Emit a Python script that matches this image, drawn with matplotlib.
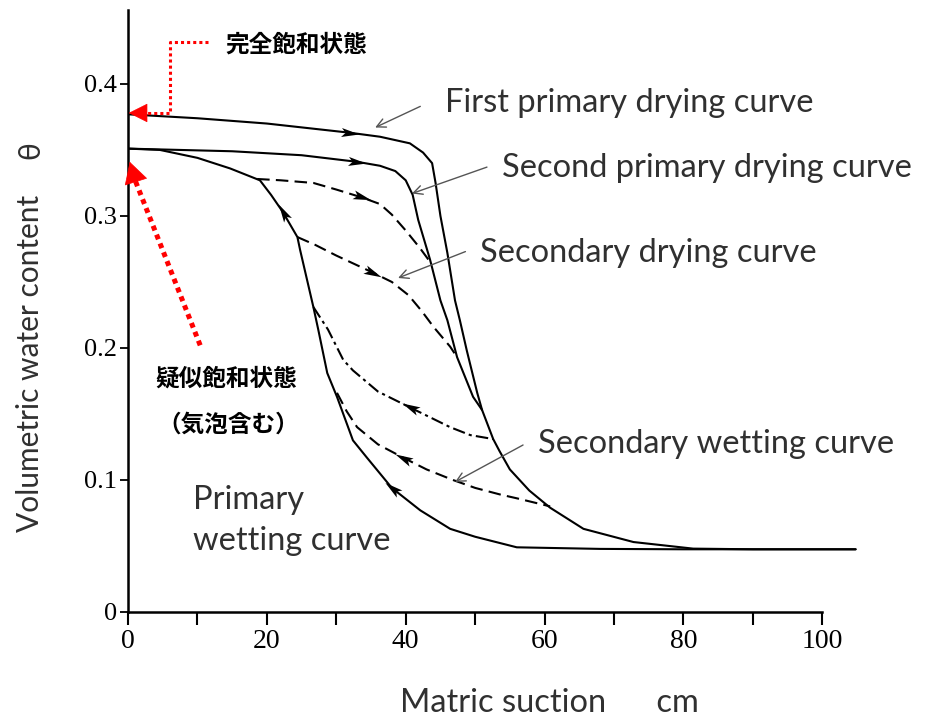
#!/usr/bin/env python
from __future__ import annotations

import matplotlib

matplotlib.use("Agg")

import matplotlib.pyplot as plt
import numpy as np
from matplotlib.markers import MarkerStyle
from matplotlib.path import Path
from matplotlib.transforms import Affine2D

# matric suction (cm) / volumetric water content
first_dry_x = [0, 10, 20, 32, 36.3, 40.6, 42.5, 43.8, 44.3, 45.0, 46.0, 47.1, 47.8, 48.8, 50.3,
               51.0, 52.6, 53.5, 55.0, 57.8, 60.8, 65.6, 72.8, 81.4, 90, 104.8]
first_dry_y = [0.377, 0.374, 0.370, 0.363, 0.360, 0.355, 0.348, 0.340, 0.325, 0.300, 0.272, 0.236, 0.221, 0.198, 0.166,
               0.153, 0.131, 0.122, 0.108, 0.092, 0.079, 0.063, 0.053, 0.048, 0.0475, 0.0475]

second_dry_x = [0, 15, 25, 33, 36.3, 38.5, 40.0, 41.0, 41.8, 43.5, 45.0, 46.0, 47.4, 49.7, 51.0]
second_dry_y = [0.351, 0.349, 0.346, 0.341, 0.338, 0.334, 0.327, 0.316, 0.297, 0.267, 0.236, 0.221, 0.193, 0.163, 0.153]

sec_dry_upper_x = [18.6, 22, 26.7, 30, 33.7, 36.3, 38, 40, 42, 43.4]
sec_dry_upper_y = [0.328, 0.327, 0.325, 0.320, 0.314, 0.309, 0.301, 0.289, 0.276, 0.266]

sec_dry_lower_x = [24.4, 27, 30, 35.3, 38, 40.4, 42.3, 44, 46.4, 47.4]
sec_dry_lower_y = [0.284, 0.278, 0.270, 0.257, 0.250, 0.240, 0.228, 0.216, 0.201, 0.193]

wet_x = [0, 4.6, 10, 14.7, 19.0, 20.6, 22.3, 24.4, 24.8, 26.7, 27.4, 28.7, 30.1, 32.4, 34.4, 38.0,
         42.1, 46.4, 50, 56, 68, 80, 104.8]
wet_y = [0.351, 0.350, 0.344, 0.336, 0.327, 0.316, 0.303, 0.284, 0.274, 0.231, 0.214, 0.181, 0.163, 0.130, 0.117, 0.094,
         0.077, 0.063, 0.057, 0.049, 0.0478, 0.0475, 0.0475]

sec_wet_upper_x = [26.7, 28.8, 31.0, 32.4, 36.0, 40.6, 46.4, 49.3, 52.6]
sec_wet_upper_y = [0.231, 0.214, 0.191, 0.183, 0.167, 0.155, 0.140, 0.134, 0.131]

sec_wet_lower_x = [30.1, 31.5, 33.0, 36, 39.6, 43, 46.8, 50, 53.6, 56.1, 60.8]
sec_wet_lower_y = [0.166, 0.152, 0.140, 0.127, 0.117, 0.108, 0.100, 0.094, 0.089, 0.086, 0.080]

# where the direction arrowheads sit on each curve (x)
first_dry_arrows = [32]
second_dry_arrows = [33]
sec_dry_upper_arrows = [33.7]
sec_dry_lower_arrows = [35.3]
wet_arrows = [22.3, 38.0]
sec_wet_upper_arrows = [40.6]
sec_wet_lower_arrows = [39.6]

x_ticks = [0, 10, 20, 30, 40, 50, 60, 70, 80, 90, 100]
x_tick_labels = ["0", "", "20", "", "40", "", "60", "", "80", "", "100"]
y_ticks = [0, 0.1, 0.2, 0.3, 0.4]
y_tick_labels = ["0", "0.1", "0.2", "0.3", "0.4"]

EN_FONT = ["Lato", "DejaVu Sans"]
TICK_FONT = "Liberation Serif"
JP_FONT = ["Noto Sans CJK JP", "DejaVu Sans"]
TEXT_COLOR = "#303030"
EN_SIZE = 23.5
ARROW_HEAD = Path([(1.0, 0.0), (-1.0, 0.5), (-0.55, 0.0), (-1.0, -0.5), (1.0, 0.0)],
                  [Path.MOVETO, Path.LINETO, Path.LINETO, Path.LINETO, Path.CLOSEPOLY])


def add_heads(ax, xs, ys, positions, direction, size=13):
    # direction: +1 = heading to larger suction, -1 = heading back
    for x0 in positions:
        y0 = np.interp(x0, xs, ys)
        x1 = x0 - direction * 0.4
        y1 = np.interp(x1, xs, ys)
        p0 = ax.transData.transform((x0, y0))
        p1 = ax.transData.transform((x1, y1))
        ang = np.degrees(np.arctan2(p0[1] - p1[1], p0[0] - p1[0]))
        marker = MarkerStyle(ARROW_HEAD, transform=Affine2D().rotate_deg(ang))
        ax.plot([x0], [y0], marker=marker, ms=size, color="black", mew=0, zorder=4)


def pointer(ax, start, end):
    ax.annotate("", xy=end, xytext=start,
                arrowprops=dict(arrowstyle="->", color="#555555", lw=1.0,
                                shrinkA=0, shrinkB=0, mutation_scale=16))


def main() -> None:
    fig = plt.figure(figsize=(9.27, 7.17), dpi=100)
    ax = fig.add_axes([128 / 927, 105 / 717, 729 / 927, 602 / 717])
    ax.set_xlim(0, 105)
    ax.set_ylim(0, 0.456)

    for side in ("top", "right"):
        ax.spines[side].set_visible(False)
    ax.spines["left"].set_linewidth(1.8)
    ax.spines["bottom"].set_linewidth(1.8)
    ax.spines["bottom"].set_bounds(0, 100)

    ax.set_xticks(x_ticks)
    ax.set_xticklabels(x_tick_labels, fontfamily=TICK_FONT, fontsize=20)
    ax.set_yticks(y_ticks)
    ax.set_yticklabels(y_tick_labels, fontfamily=TICK_FONT, fontsize=19)
    ax.tick_params(axis="x", direction="out", length=9, width=1.5, pad=3)
    ax.tick_params(axis="y", direction="out", length=6, width=1.3, pad=2)

    solid = dict(color="black", lw=1.5, solid_capstyle="round")
    ax.plot(first_dry_x, first_dry_y, **solid)
    ax.plot(second_dry_x, second_dry_y, **solid)
    ax.plot(wet_x, wet_y, **solid)
    ax.plot(sec_dry_upper_x, sec_dry_upper_y, color="black", lw=1.5, dashes=(6, 3))
    ax.plot(sec_dry_lower_x, sec_dry_lower_y, color="black", lw=1.5, dashes=(6, 3))
    ax.plot(sec_wet_upper_x, sec_wet_upper_y, color="black", lw=1.5, dashes=(6, 2, 1.5, 2))
    ax.plot(sec_wet_lower_x, sec_wet_lower_y, color="black", lw=1.5, dashes=(6, 3))

    add_heads(ax, first_dry_x, first_dry_y, first_dry_arrows, 1)
    add_heads(ax, second_dry_x, second_dry_y, second_dry_arrows, 1)
    add_heads(ax, sec_dry_upper_x, sec_dry_upper_y, sec_dry_upper_arrows, 1)
    add_heads(ax, sec_dry_lower_x, sec_dry_lower_y, sec_dry_lower_arrows, 1)
    add_heads(ax, wet_x, wet_y, wet_arrows, -1)
    add_heads(ax, sec_wet_upper_x, sec_wet_upper_y, sec_wet_upper_arrows, -1)
    add_heads(ax, sec_wet_lower_x, sec_wet_lower_y, sec_wet_lower_arrows, -1)

    # curve names with thin pointers
    en = dict(fontfamily=EN_FONT, fontsize=EN_SIZE, color=TEXT_COLOR, va="center", ha="left")
    ax.text(45.7, 0.3856, "First primary drying curve", **en)
    ax.text(53.9, 0.3364, "Second primary drying curve", **en)
    ax.text(50.7, 0.272, "Secondary drying curve", **en)
    ax.text(59.1, 0.127, "Secondary wetting curve", **en)
    ax.text(9.4, 0.0848, "Primary", **en)
    ax.text(9.4, 0.0538, "wetting curve", **en)
    pointer(ax, (42.1, 0.383), (35.6, 0.367))
    pointer(ax, (51.7, 0.337), (40.9, 0.317))
    pointer(ax, (48.6, 0.273), (38.9, 0.253))
    pointer(ax, (56.9, 0.1265), (47.1, 0.0985))

    # red saturation callouts
    ax.plot([11.5, 6.05, 6.05, 1.5], [0.432, 0.432, 0.378, 0.378],
            color="red", lw=2.2, dashes=(1, 1), dash_capstyle="butt", clip_on=False)
    ax.annotate("", xy=(0.1, 0.378), xytext=(2.2, 0.378),
                arrowprops=dict(arrowstyle="-|>,head_length=0.9,head_width=0.45", color="red",
                                lw=0.5, shrinkA=0, shrinkB=0, mutation_scale=14))
    ax.plot([10.4, 1.1], [0.202, 0.326], color="red", lw=3.6, dashes=(1, 0.9),
            dash_capstyle="butt")
    ax.annotate("", xy=(0.25, 0.341), xytext=(1.2, 0.325),
                arrowprops=dict(arrowstyle="-|>,head_length=0.9,head_width=0.5", color="red",
                                lw=0.5, shrinkA=0, shrinkB=0, mutation_scale=16))

    jp = dict(fontfamily=JP_FONT, fontsize=17, fontweight="bold", color="black", va="center", ha="left")
    ax.text(14.0, 0.430, "完全飽和状態", **jp)
    ax.text(3.9, 0.177, "疑似飽和状態", **jp)
    ax.text(4.3, 0.142, "（気泡含む）", **jp)

    fig.text(400 / 927, 1 - 703 / 717, "Matric suction      cm", fontfamily=EN_FONT, fontsize=EN_SIZE,
             color=TEXT_COLOR, ha="left", va="center")
    fig.text(30 / 927, 1 - 532 / 717, "Volumetric water content", fontfamily=EN_FONT,
             fontsize=21.5, color=TEXT_COLOR, ha="center", va="bottom", rotation=90)
    fig.text(30 / 927, 1 - 150 / 717, "θ", fontfamily=EN_FONT,
             fontsize=21.5, color=TEXT_COLOR, ha="center", va="center", rotation=90)

    fig.savefig("out.png", dpi=100)
    plt.close(fig)


if __name__ == "__main__":
    main()
